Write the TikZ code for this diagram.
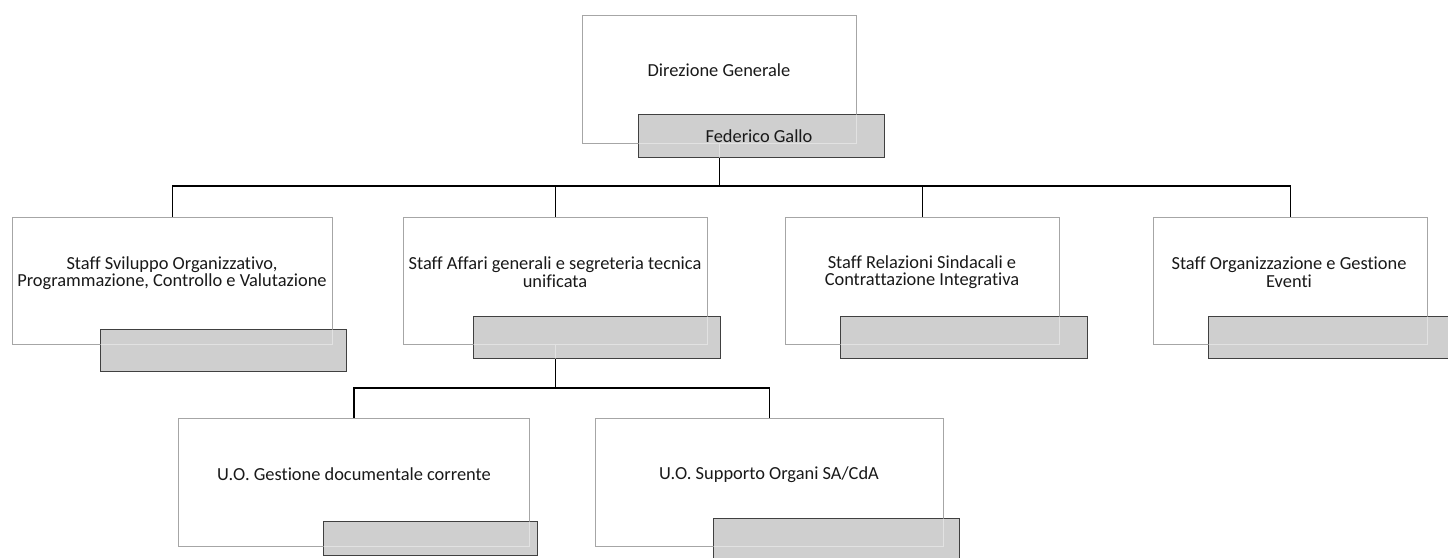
\documentclass[tikz,border=0pt]{standalone}
\usepackage{fontspec}
\setmainfont{Carlito}[Ligatures=NoCommon, RawFeature=-liga]
\begin{document}
\begin{tikzpicture}[x=1pt,y=-1pt,
  wbox/.style={draw=black!35, line width=0.8pt, fill=white, inner sep=0pt, anchor=north west},
  gbox/.style={draw=black!75, line width=0.9pt, fill=black!19, inner sep=0pt, anchor=north west},
  ghost/.style={draw=white, draw opacity=0.4, line width=0.8pt},
  conn/.style={draw=black, line width=1.6pt},
  txt/.style={font=\fontsize{18.4}{17.5}\selectfont, align=center, inner sep=0pt, text=black!90}]
\useasboundingbox (0,0) rectangle (1448,557);
\fill[white] (0,0) rectangle (1448,557);
% white boxes
\node[wbox, minimum width=274pt, minimum height=128pt] (dg) at (582,15) {};
\node[wbox, minimum width=320pt, minimum height=127pt] (s1) at (12,217) {};
\node[wbox, minimum width=304pt, minimum height=127pt] (s2) at (403,217) {};
\node[wbox, minimum width=274pt, minimum height=127pt] (s3) at (785,217) {};
\node[wbox, minimum width=274pt, minimum height=127pt] (s4) at (1153,217) {};
\node[wbox, minimum width=351pt, minimum height=128pt] (b1) at (178,418) {};
\node[wbox, minimum width=348pt, minimum height=128pt] (b2) at (595,418) {};
% connectors
\coordinate (bus) at (719,186);
\coordinate (bus2) at (554,388);
\draw[conn] (dg.south) -- (dg.south |- bus) -| (s1.north);
\draw[conn] (dg.south |- bus) -| (s2.north);
\draw[conn] (dg.south |- bus) -| (s3.north);
\draw[conn] (dg.south |- bus) -| (s4.north);
\draw[conn] (s2.south) -- (s2.south |- bus2) -| (b1.north);
\draw[conn] (s2.south |- bus2) -| (b2.north);
% grey boxes
\node[gbox, minimum width=246pt, minimum height=43pt] (fg) at (638,114) {};
\node[gbox, minimum width=246pt, minimum height=42pt] (g1) at (100,329) {};
\node[gbox, minimum width=247pt, minimum height=42pt] (g2) at (473,316) {};
\node[gbox, minimum width=247pt, minimum height=42pt] (g3) at (840,316) {};
\node[gbox, minimum width=246pt, minimum height=42pt] (g4) at (1208,316) {};
\node[gbox, minimum width=214pt, minimum height=34pt] (gb1) at (323,521) {};
\node[gbox, minimum width=246pt, minimum height=44pt] (gb2) at (713,518) {};
% show-through of the white boxes and connectors under the grey boxes
\draw[ghost] (fg.west |- dg.south) -| (dg.south east |- fg.north);
\draw[ghost] (dg.south) -- (dg.south |- fg.south);
\draw[ghost] (g1.west |- s1.south) -| (s1.south east |- g1.north);
\draw[ghost] (g2.west |- s2.south) -| (s2.south east |- g2.north);
\draw[ghost] (s2.south) -- (s2.south |- g2.south);
\draw[ghost] (g3.west |- s3.south) -| (s3.south east |- g3.north);
\draw[ghost] (g4.west |- s4.south) -| (s4.south east |- g4.north);
\draw[ghost] (gb1.west |- b1.south) -| (b1.south east |- gb1.north);
\draw[ghost] (gb2.west |- b2.south) -| (b2.south east |- gb2.north);
% texts
\node[txt] (dgt) at (719,70) {Direzione Generale};
\node[txt] (fgt) at (759,136) {Federico Gallo};
\node[txt] (s1t) at (172,273) {Staff Sviluppo Organizzativo,\\Programmazione, Controllo e Valutazione};
\node[txt] (s2t) at (555,272) {Staff Affari generali e segreteria tecnica\\unificata};
\node[txt] (s3t) at (922,272) {Staff Relazioni Sindacali e\\Contrattazione Integrativa};
\node[txt] (s4t) at (1289,272) {Staff Organizzazione e Gestione\\Eventi};
\node[txt] (b1t) at (354,474) {U.O. Gestione documentale corrente};
\node[txt] (b2t) at (769,475) {U.O. Supporto Organi SA/CdA};
\end{tikzpicture}
\end{document}
